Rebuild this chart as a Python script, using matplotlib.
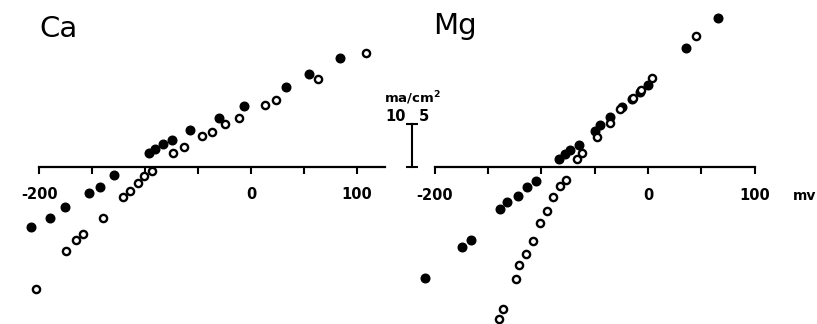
import matplotlib.pyplot as plt

# Ca panel: current (ma/cm2) vs membrane potential (mv)
ca_filled_mv = [-208, -190, -176, -153, -143, -129, -96, -91, -83, -75, -58, -30, -7, 33, 55, 84]
ca_filled_i = [-14.0, -11.9, -9.4, -6.1, -4.7, -1.9, 3.1, 4.2, 5.3, 6.2, 8.6, 11.3, 14.2, 18.5, 21.6, 25.2]
ca_open_mv = [-203, -175, -165, -159, -140, -121, -114, -107, -101, -94,
              -74, -63, -46, -37, -25, -11, 13, 24, 63, 109]
ca_open_i = [-28.5, -19.6, -17.1, -15.6, -11.9, -7.0, -5.6, -3.9, -2.2, -1.0,
             3.1, 4.6, 7.2, 8.1, 9.9, 11.3, 14.3, 15.4, 20.4, 26.4]

# Mg panel
mg_filled_mv = [-209, -174, -166, -139, -132, -122, -113, -105, -83, -78, -73, -65,
                -50, -45, -36, -24, -15, -7.5, 0.3, 35.6, 65.9]
mg_filled_i = [-12.9, -9.3, -8.5, -4.9, -4.1, -3.4, -2.4, -1.7, 0.9, 1.5, 2.0, 2.5,
               4.1, 4.8, 5.8, 6.9, 7.9, 8.7, 9.5, 13.8, 17.3]
mg_open_mv = [-140, -136, -124, -121, -114, -108, -101, -95, -89, -82.5, -77,
              -67, -62, -48, -36, -26, -14, -7, 4, 45]
mg_open_i = [-17.7, -16.6, -13.1, -11.4, -10.1, -8.6, -6.6, -5.1, -3.5, -2.3, -1.5,
             0.9, 1.6, 3.5, 5.1, 6.7, 8.0, 8.9, 10.3, 15.2]

tick_pos = [-200, -150, -100, -50, 0, 50, 100]
tick_lab = ['-200', '', '', '', '0', '', '100']

fig = plt.figure(figsize=(8.17, 3.24), dpi=100)
ax1 = fig.add_axes([0, 0, 408 / 817, 1])
ax2 = fig.add_axes([408 / 817, 0, 409 / 817, 1])

def style_axis(ax, xlim, ylim, bounds):
    ax.set_xlim(*xlim)
    ax.set_ylim(*ylim)
    ax.patch.set_visible(False)
    for s in ['top', 'right', 'left']:
        ax.spines[s].set_visible(False)
    ax.spines['bottom'].set_position(('data', 0))
    ax.spines['bottom'].set_bounds(*bounds)
    ax.spines['bottom'].set_linewidth(1.6)
    ax.set_yticks([])
    ax.set_xticks(tick_pos)
    ax.set_xticklabels(tick_lab, fontsize=10.5, fontweight='bold')
    ax.tick_params(axis='x', direction='out', length=5, width=1.5, pad=10)

style_axis(ax1, (-237.2, 148.4), (-36.6, 38.77), (-200, 127))
style_axis(ax2, (-225, 158.4), (-18.3, 19.4), (-200, 100))

ax1.plot(ca_filled_mv, ca_filled_i, 'o', color='black', markersize=6.2, clip_on=False)
ax1.plot(ca_open_mv, ca_open_i, 'o', markerfacecolor='white', markeredgecolor='black',
         markersize=5.2, markeredgewidth=1.7, clip_on=False)
ax2.plot(mg_filled_mv, mg_filled_i, 'o', color='black', markersize=6.2, clip_on=False)
ax2.plot(mg_open_mv, mg_open_i, 'o', markerfacecolor='white', markeredgecolor='black',
         markersize=5.2, markeredgewidth=1.7, clip_on=False)

ax1.text(-200, 30.2, 'Ca', fontsize=21, va='baseline', ha='left')
ax2.text(-201.6, 15.4, 'Mg', fontsize=21, va='baseline', ha='left')
ax2.text(147, -3.4, 'mv', fontsize=10, fontweight='bold', ha='center', va='center')

# scale bar: 10 ma/cm2 for Ca, 5 ma/cm2 for Mg
ax2.plot([-221, -221], [0, 5], color='black', linewidth=1.5, clip_on=False)
ax2.plot([-221, -221], [0, 5], '_', color='black', markersize=9, markeredgewidth=1.5, clip_on=False)
ax2.text(-221, 8.0, 'ma/cm$^\\mathbf{2}$', fontsize=9.5, fontweight='bold', ha='center', va='center')
ax2.text(-227, 5.8, '10', fontsize=10.5, fontweight='bold', ha='right', va='center')
ax2.text(-215, 5.8, '5', fontsize=10.5, fontweight='bold', ha='left', va='center')

plt.savefig('out.png', dpi=100)
